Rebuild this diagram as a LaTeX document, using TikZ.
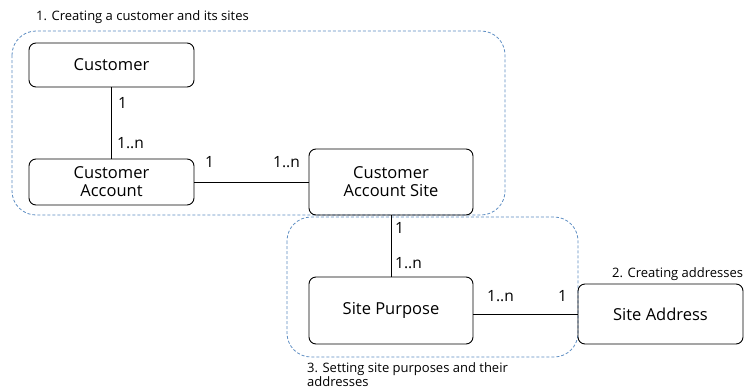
\documentclass[tikz,border=0pt]{standalone}
\usepackage{fontspec}
\setmainfont{Open Sans}
\definecolor{groupblue}{RGB}{92,140,194}
\tikzset{
  entity/.style={draw=black, line width=0.9pt, rounded corners=7pt, align=center,
    font=\fontsize{16.5}{20}\selectfont, inner sep=0pt},
  group/.style={draw=groupblue, dashed, dash pattern=on 3pt off 2pt, line width=0.8pt, rounded corners=24pt},
  link/.style={draw=black, line width=1pt},
  mult/.style={font=\fontsize{15.5}{17}\selectfont, inner sep=0pt, anchor=west},
  caption/.style={font=\fontsize{13}{14}\selectfont, inner sep=0pt, anchor=west, align=left}
}
\begin{document}
\begin{tikzpicture}[x=1pt,y=-1pt]
\useasboundingbox (0,0) rectangle (744,391);

% process groups
\draw[group] (12,31) rectangle (505,215);
\draw[group] (287,217) rectangle (578,357);

% entities
\node[entity, minimum width=165pt, minimum height=44pt] (cust) at (111.5,65) {Customer};
\node[entity, minimum width=165pt, minimum height=46pt] (acct) at (111.5,182) {Customer\\[-2pt]Account};
\node[entity, minimum width=164pt, minimum height=66pt] (site) at (391,182) {Customer\\[-2pt]Account Site};
\node[entity, minimum width=164pt, minimum height=67pt] (purp) at (391,310.5) {Site Purpose};
\node[entity, minimum width=165pt, minimum height=60pt] (addr) at (660.5,314) {Site Address};

% relationships
\draw[link] (cust) -- (acct);
\draw[link] (acct) -- (site);
\draw[link] (site) -- (purp);
\draw[link] (purp.east |- addr.west) -- (addr.west);

% multiplicities
\node[mult] (m1) at (118,103) {1};
\node[mult] (m2) at (117,143) {1..n};
\node[mult] (m3) at (205,162) {1};
\node[mult] (m4) at (273,162) {1..n};
\node[mult] (m5) at (395,228) {1};
\node[mult] (m6) at (395,263) {1..n};
\node[mult] (m7) at (487,296) {1..n};
\node[mult] (m8) at (558,296) {1};

% captions
\node[caption] (c1) at (36,17) {1. Creating a customer and its sites};
\node[caption] (c2) at (612,274) {2. Creating addresses};
\node[caption, anchor=north west] (c3) at (307,362) {3. Setting site purposes and their\\addresses};
\end{tikzpicture}
\end{document}
